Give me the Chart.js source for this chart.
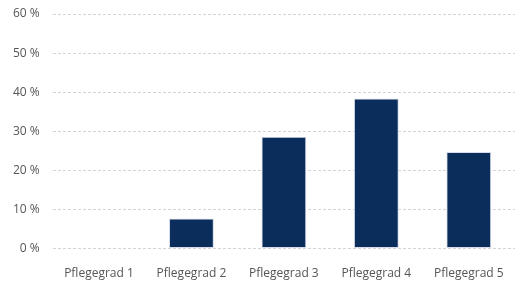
<!DOCTYPE html>
<html>
<head>
<meta charset="utf-8">
<script src="https://cdn.jsdelivr.net/npm/chart.js@4"></script>
<style>
  html,body{margin:0;padding:0;background:#fff;}
  #wrap{width:525px;height:288px;position:relative;}
</style>
</head>
<body>
<div id="wrap"><canvas id="c"></canvas></div>
<script>
// Pflegegrad-Verteilung (Anteile in %)
const categories=['Pflegegrad 1','Pflegegrad 2','Pflegegrad 3','Pflegegrad 4','Pflegegrad 5'];
const shares=[0,7.7,28.6,38.4,24.7];
const yTicks=[0,10,20,30,40,50,60];

const ctx=document.getElementById('c');
new Chart(ctx,{
  type:'bar',
  data:{
    labels:categories,
    datasets:[{data:shares,backgroundColor:'#0b2d5b',borderColor:'#d6dde8',borderWidth:1,borderSkipped:false,barPercentage:0.97,categoryPercentage:0.5}]
  },
  options:{
    responsive:true,maintainAspectRatio:false,animation:false,
    layout:{padding:{top:14,right:10,left:0,bottom:-3}},
    plugins:{legend:{display:false},tooltip:{enabled:false}},
    scales:{
      x:{
        grid:{display:false},border:{display:false},
        ticks:{color:'#555',font:{family:'Open Sans',size:12},padding:10}
      },
      y:{
        min:0,max:60,
        afterBuildTicks:a=>{a.ticks=yTicks.map(v=>({value:v}));},
        afterFit:s=>{s.paddingTop=0;s.paddingBottom=0;},
        grid:{color:'#d4d4d4',lineWidth:1,drawTicks:false},
        border:{display:false,dash:[3,2]},
        ticks:{color:'#555',font:{family:'Open Sans',size:12},padding:13,callback:v=>v+' %'}
      }
    }
  }
});
</script>
</body>
</html>
